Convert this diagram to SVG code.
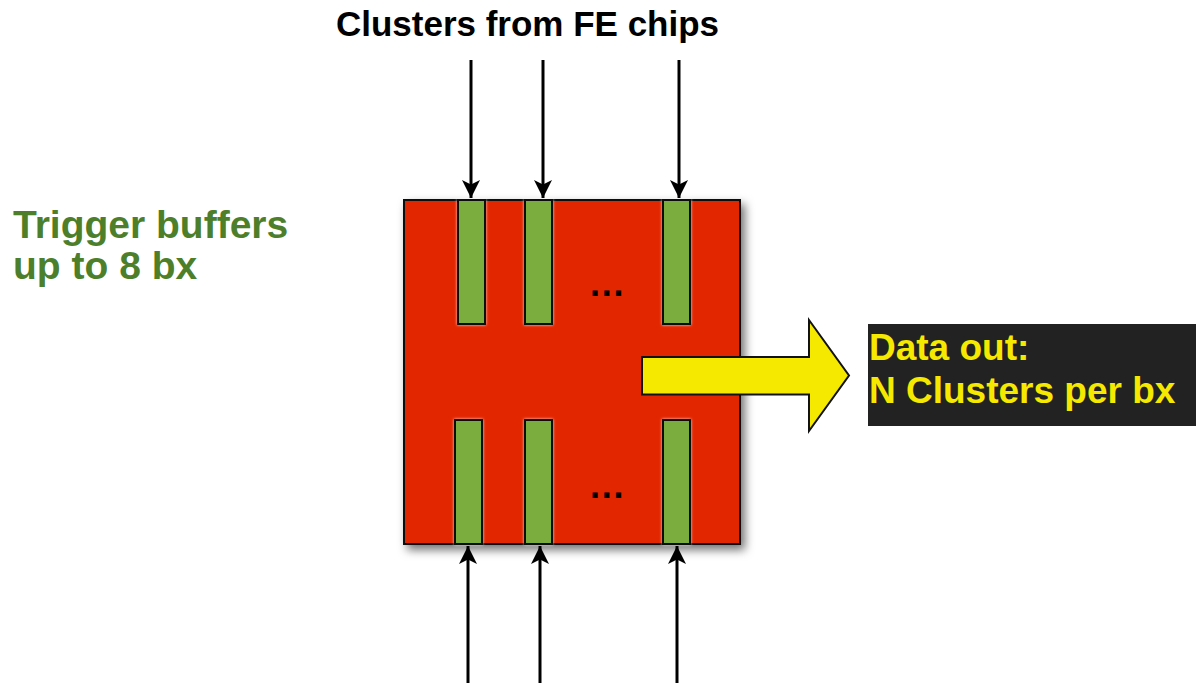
<svg xmlns="http://www.w3.org/2000/svg" width="1196" height="683" viewBox="0 0 1196 683">
  <defs>
    <filter id="shadow" x="-10%" y="-10%" width="130%" height="130%">
      <feDropShadow dx="4" dy="5" stdDeviation="5" flood-color="#000" flood-opacity="0.55"/>
    </filter>
    <filter id="glow" x="-30%" y="-10%" width="160%" height="120%">
      <feDropShadow dx="0" dy="0" stdDeviation="1.5" flood-color="#fff" flood-opacity="0.8"/>
    </filter>
    <marker id="ah" viewBox="0 0 10 10" refX="10" refY="5" markerWidth="6" markerHeight="6" markerUnits="strokeWidth" orient="auto">
      <path d="M0,0 L10,5 L0,10 L2.5,5 z" fill="#000"/>
    </marker>
    <style>
      .t { font-family: "Liberation Sans", Arial, Helvetica, sans-serif; font-weight: bold; }
      .bar { fill: #7aad3c; stroke: #111; stroke-width: 2; filter: url(#glow); }
      .conn { stroke: #000; stroke-width: 3; fill: none; marker-end: url(#ah); }
    </style>
  </defs>
  <rect width="1196" height="683" fill="#fff"/>

  <text class="t" x="527.5" y="36" font-size="35" text-anchor="middle" fill="#000">Clusters from FE chips</text>

  <g id="label-trigger">
    <text class="t" x="13" y="238" font-size="39" fill="#4d7f2a">Trigger buffers</text>
    <text class="t" x="13" y="279" font-size="39" fill="#4d7f2a">up to 8 bx</text>
  </g>

  <g id="chip">
    <rect x="404" y="200" width="336" height="344" fill="#e22500" stroke="#111" stroke-width="2" filter="url(#shadow)"/>
  </g>

  <g id="buffers-top">
    <rect class="bar" x="458" y="200" width="27" height="124"/>
    <rect class="bar" x="525" y="200" width="27" height="124"/>
    <rect class="bar" x="663" y="200" width="27" height="124"/>
    <text class="t" x="590" y="296" font-size="36" letter-spacing="1.7" fill="#000">...</text>
  </g>

  <g id="buffers-bottom">
    <rect class="bar" x="455" y="420" width="27" height="124"/>
    <rect class="bar" x="525" y="420" width="27" height="124"/>
    <rect class="bar" x="663" y="420" width="27" height="124"/>
    <text class="t" x="590" y="498" font-size="36" letter-spacing="1.7" fill="#000">...</text>
  </g>

  <g id="output-arrow">
    <path d="M642,357 L809,357 L809,320 L849,375.5 L809,431 L809,394.5 L642,394.5 Z" fill="#f5e900" stroke="#111" stroke-width="2" stroke-linejoin="miter"/>
  </g>

  <g id="data-out">
    <rect x="868" y="324" width="328" height="102" fill="#222"/>
    <text class="t" x="869" y="360" font-size="37" fill="#f5e900">Data out:</text>
    <text class="t" x="869" y="403" font-size="37" fill="#f5e900">N Clusters per bx</text>
  </g>

  <g id="connectors">
    <line class="conn" x1="471" y1="60" x2="471" y2="198"/>
    <line class="conn" x1="543" y1="60" x2="543" y2="198"/>
    <line class="conn" x1="679" y1="60" x2="679" y2="198"/>
    <line class="conn" x1="468" y1="683" x2="468" y2="546"/>
    <line class="conn" x1="540" y1="683" x2="540" y2="546"/>
    <line class="conn" x1="677" y1="683" x2="677" y2="546"/>
  </g>
</svg>
